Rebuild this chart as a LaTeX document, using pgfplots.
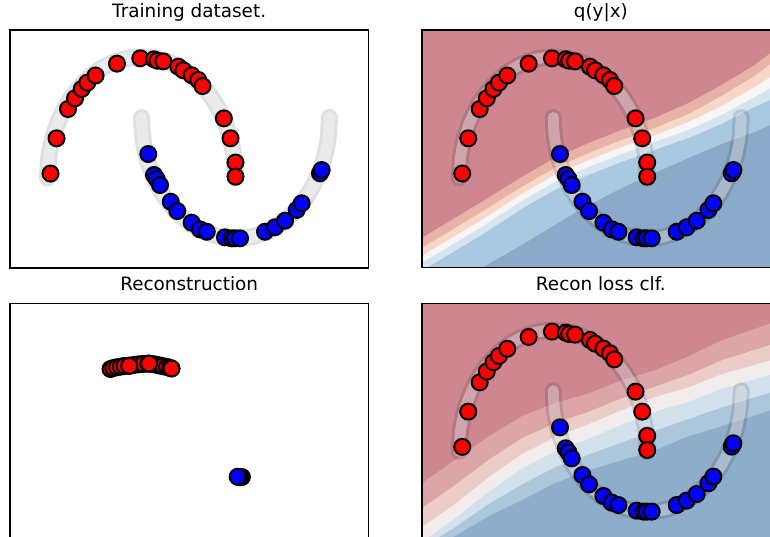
\documentclass[border=0pt]{standalone}
\usepackage{fontspec}
\setmainfont{DejaVu Sans}
\usepackage{pgfplots}
\usepackage{pgfplotstable}
\pgfplotsset{compat=1.18}
\definecolor{cR}{RGB}{206,135,145}
\definecolor{cS}{RGB}{232,178,166}
\definecolor{cP}{RGB}{248,215,200}
\definecolor{cW}{RGB}{247,245,245}
\definecolor{cLB}{RGB}{212,229,240}
\definecolor{cMB}{RGB}{168,201,224}
\definecolor{cDB}{RGB}{139,170,201}
\definecolor{cA}{RGB}{220,165,170}
\definecolor{cB}{RGB}{236,204,200}
\definecolor{cC}{RGB}{242,237,236}
\definecolor{cD}{RGB}{210,225,236}
\definecolor{cE}{RGB}{172,198,220}
\definecolor{cF}{RGB}{142,173,203}

\pgfplotstableread{
x y
-0.968 0.037
-0.904 0.328
-0.782 0.570
-0.707 0.659
-0.636 0.736
-0.577 0.788
-0.489 0.847
-0.261 0.945
-0.013 0.989
0.133 0.981
0.170 0.969
0.232 0.964
0.391 0.920
0.445 0.890
0.534 0.849
0.604 0.810
0.649 0.760
0.876 0.493
0.947 0.328
1.000 0.128
1.000 0.011
}\redpts

\pgfplotstableread{
x y
0.072 0.198
0.133 0.025
0.162 -0.008
0.197 -0.058
0.311 -0.196
0.381 -0.273
0.534 -0.369
0.622 -0.424
0.694 -0.444
0.888 -0.490
0.960 -0.498
0.995 -0.498
1.048 -0.498
1.314 -0.444
1.420 -0.407
1.527 -0.353
1.651 -0.264
1.704 -0.209
1.899 0.039
1.917 0.066
}\bluepts

\pgfplotstableread{
x y
1.000 0.000
0.985 0.174
0.940 0.342
0.866 0.500
0.766 0.643
0.643 0.766
0.500 0.866
0.342 0.940
0.174 0.985
0.000 1.000
-0.174 0.985
-0.342 0.940
-0.500 0.866
-0.643 0.766
-0.766 0.643
-0.866 0.500
-0.940 0.342
-0.985 0.174
-1.000 0.000
}\upperband

\pgfplotstableread{
x y
0.000 0.500
0.015 0.326
0.060 0.158
0.134 0.000
0.234 -0.143
0.357 -0.266
0.500 -0.366
0.658 -0.440
0.826 -0.485
1.000 -0.500
1.174 -0.485
1.342 -0.440
1.500 -0.366
1.643 -0.266
1.766 -0.143
1.866 0.000
1.940 0.158
1.985 0.326
2.000 0.500
}\lowerband

\pgfplotstableread{
x y
-0.330 0.680
-0.300 0.688
-0.260 0.695
-0.220 0.700
-0.180 0.705
-0.130 0.708
-0.080 0.714
-0.030 0.719
0.020 0.722
0.070 0.724
0.110 0.722
0.150 0.716
0.190 0.710
0.230 0.703
0.270 0.697
0.300 0.690
0.320 0.684
-0.130 0.706
0.080 0.725
}\reconred

\pgfplotstableread{
x y
1.068 -0.212
1.055 -0.213
1.040 -0.214
1.023 -0.210
}\reconblue

\pgfplotsset{
  moon/.style={width=358.3pt, height=237.7pt, scale only axis,
    xmin=-1.399, xmax=2.413, ymin=-0.741, ymax=1.223,
    xtick=\empty, ytick=\empty,
    axis line style={line width=1.6pt, black},
    axis on top, anchor=north west,
    title style={at={(0.5,1)}, anchor=base, yshift=6.5pt,
      font=\fontsize{18.4}{20}\selectfont}},
  redpts/.style={only marks, mark=*, mark size=8pt,
    mark options={fill=red, draw=black, line width=2pt}},
  bluepts/.style={only marks, mark=*, mark size=8pt,
    mark options={fill=blue, draw=black, line width=2pt}},
  bandA/.style={draw=black, draw opacity=0.12, line width=17pt, line cap=round, smooth},
  bandB/.style={draw=white, draw opacity=0.35, line width=11pt, line cap=round, smooth},
}

\begin{document}
\begin{tikzpicture}[x=1pt,y=1pt]
% ---------- Training dataset ----------
\begin{axis}[moon, at={(10pt,-30pt)}, title={Training dataset.}]
\addplot[bandA] table {\upperband};
\addplot[bandB] table {\upperband};
\addplot[bandA] table {\lowerband};
\addplot[bandB] table {\lowerband};
\addplot[redpts] table {\redpts};
\addplot[bluepts] table {\bluepts};
\end{axis}
% ---------- q(y|x) ----------
\begin{axis}[moon, at={(421.7pt,-30pt)}, title={q(y|x)}, axis background/.style={fill=cR}]
\addplot[fill=cS, draw=none] coordinates {(-1.6,-0.59) (-1.399,-0.496) (-0.761,-0.198) (-0.335,0.008) (0.016,0.165) (0.378,0.289) (0.729,0.397) (1.080,0.496) (1.441,0.620) (1.793,0.769) (2.144,0.934) (2.314,1.033) (2.6,1.18) (2.6,-1.6) (-1.6,-1.6)};
\addplot[fill=cP, draw=none] coordinates {(-1.6,-0.67) (-1.399,-0.579) (-0.761,-0.281) (-0.335,-0.074) (0.016,0.083) (0.378,0.207) (0.729,0.314) (1.080,0.413) (1.441,0.529) (1.793,0.678) (2.144,0.843) (2.314,0.942) (2.6,1.10) (2.6,-1.6) (-1.6,-1.6)};
\addplot[fill=cW, draw=none] coordinates {(-1.6,-0.74) (-1.399,-0.645) (-0.761,-0.347) (-0.335,-0.132) (0.016,0.025) (0.378,0.149) (0.729,0.256) (1.080,0.355) (1.441,0.463) (1.793,0.595) (2.144,0.752) (2.314,0.835) (2.6,0.97) (2.6,-1.6) (-1.6,-1.6)};
\addplot[fill=cLB, draw=none] coordinates {(-1.6,-0.80) (-1.399,-0.702) (-0.761,-0.405) (-0.335,-0.190) (0.016,-0.033) (0.378,0.091) (0.729,0.198) (1.080,0.298) (1.441,0.397) (1.793,0.521) (2.144,0.669) (2.314,0.744) (2.6,0.87) (2.6,-1.6) (-1.6,-1.6)};
\addplot[fill=cMB, draw=none] coordinates {(-1.6,-0.86) (-1.399,-0.769) (-0.761,-0.471) (-0.335,-0.256) (0.016,-0.099) (0.378,0.025) (0.729,0.132) (1.080,0.231) (1.441,0.331) (1.793,0.446) (2.144,0.587) (2.314,0.645) (2.6,0.75) (2.6,-1.6) (-1.6,-1.6)};
\addplot[fill=cDB, draw=none] coordinates {(-1.6,-1.4) (-0.761,-0.744) (-0.335,-0.554) (0.016,-0.388) (0.378,-0.223) (0.729,-0.083) (1.080,0.041) (1.441,0.165) (1.793,0.281) (2.144,0.380) (2.314,0.438) (2.6,0.52) (2.6,-1.6) (-1.6,-1.6)};
\addplot[bandA] table {\upperband};
\addplot[bandB] table {\upperband};
\addplot[bandA] table {\lowerband};
\addplot[bandB] table {\lowerband};
\addplot[redpts] table {\redpts};
\addplot[bluepts] table {\bluepts};
\end{axis}
% ---------- Reconstruction ----------
\begin{axis}[moon, at={(10pt,-303.3pt)}, title={Reconstruction}]
\addplot[redpts] table {\reconred};
\addplot[bluepts] table {\reconblue};
\end{axis}
% ---------- Recon loss clf. ----------
\begin{axis}[moon, at={(421.7pt,-303.3pt)}, title={Recon loss clf.}, axis background/.style={fill=cR}]
\addplot[fill=cA, draw=none] coordinates {(-1.6,-0.40) (-1.399,-0.264) (-1.048,-0.074) (-0.686,0.124) (-0.335,0.289) (0.016,0.397) (0.378,0.479) (0.729,0.587) (1.080,0.669) (1.441,0.785) (1.793,0.917) (2.314,1.058) (2.6,1.14) (2.6,-1.6) (-1.6,-1.6)};
\addplot[fill=cB, draw=none] coordinates {(-1.6,-0.62) (-1.399,-0.471) (-1.048,-0.281) (-0.686,-0.070) (-0.335,0.108) (0.016,0.232) (0.378,0.327) (0.729,0.438) (1.080,0.533) (1.441,0.632) (1.793,0.752) (2.314,0.880) (2.6,0.96) (2.6,-1.6) (-1.6,-1.6)};
\addplot[fill=cC, draw=none] coordinates {(-1.6,-0.77) (-1.399,-0.628) (-1.048,-0.438) (-0.686,-0.214) (-0.335,-0.024) (0.016,0.116) (0.378,0.224) (0.729,0.339) (1.080,0.447) (1.441,0.529) (1.793,0.637) (2.314,0.752) (2.6,0.83) (2.6,-1.6) (-1.6,-1.6)};
\addplot[fill=cD, draw=none] coordinates {(-1.6,-0.89) (-1.399,-0.748) (-1.048,-0.558) (-0.686,-0.334) (-0.335,-0.144) (0.016,-0.004) (0.378,0.104) (0.729,0.219) (1.080,0.327) (1.441,0.409) (1.793,0.517) (2.314,0.632) (2.6,0.71) (2.6,-1.6) (-1.6,-1.6)};
\addplot[fill=cE, draw=none] coordinates {(-1.6,-0.95) (-1.399,-0.796) (-1.048,-0.630) (-0.686,-0.436) (-0.335,-0.275) (0.016,-0.134) (0.378,-0.027) (0.729,0.073) (1.080,0.168) (1.441,0.267) (1.793,0.362) (2.314,0.486) (2.6,0.56) (2.6,-1.6) (-1.6,-1.6)};
\addplot[fill=cF, draw=none] coordinates {(-1.6,-1.0) (-1.399,-0.843) (-1.048,-0.702) (-0.686,-0.537) (-0.335,-0.405) (0.016,-0.264) (0.378,-0.157) (0.729,-0.074) (1.080,0.008) (1.441,0.124) (1.793,0.207) (2.314,0.339) (2.6,0.40) (2.6,-1.6) (-1.6,-1.6)};
\addplot[bandA] table {\upperband};
\addplot[bandB] table {\upperband};
\addplot[bandA] table {\lowerband};
\addplot[bandB] table {\lowerband};
\addplot[redpts] table {\redpts};
\addplot[bluepts] table {\bluepts};
\end{axis}
\pgfresetboundingbox
\useasboundingbox (0pt,0pt) rectangle (770pt,-537pt);
\end{tikzpicture}
\end{document}
